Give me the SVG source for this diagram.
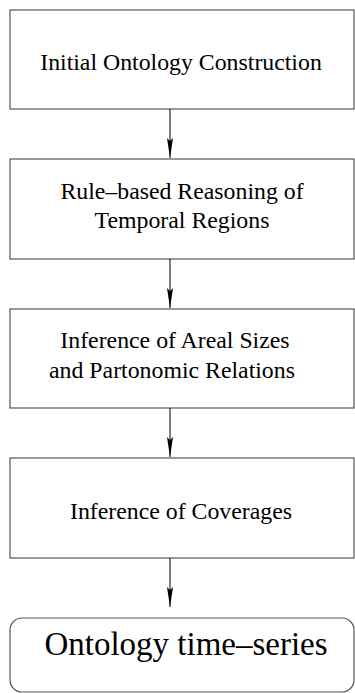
<svg xmlns="http://www.w3.org/2000/svg" width="355" height="693" viewBox="0 0 355 693">
<style>
.box{fill:#fff;stroke:#555;stroke-width:1.2}
.t{font-family:"Liberation Serif","Times New Roman",serif;font-size:23.8px;fill:#000;text-anchor:middle}
.big{font-family:"Liberation Serif","Times New Roman",serif;font-size:33px;fill:#000;text-anchor:middle}
.c{stroke:#000;stroke-width:1;fill:none}
</style>
<defs>
<marker id="ah" viewBox="0 0 20 6" refX="20" refY="3" markerWidth="20" markerHeight="6" markerUnits="userSpaceOnUse" orient="auto">
<path d="M0,0 L20,3 L0,6 L3,3 Z" fill="#000"/>
</marker>
</defs>
<rect width="355" height="693" fill="#fff"/>
<g id="n1"><rect class="box" x="10" y="10" width="344" height="99"/><text class="t" x="181" y="70">Initial Ontology Construction</text></g>
<g id="n2"><rect class="box" x="10" y="159" width="344" height="100"/><text class="t" x="182" y="199">Rule–based Reasoning of</text><text class="t" x="182" y="228">Temporal Regions</text></g>
<g id="n3"><rect class="box" x="10" y="309" width="344" height="99"/><text class="t" x="175" y="348">Inference of Areal Sizes</text><text class="t" x="172" y="378">and Partonomic Relations</text></g>
<g id="n4"><rect class="box" x="10" y="458" width="344" height="100"/><text class="t" x="181" y="519">Inference of Coverages</text></g>
<g id="n5"><rect class="box" x="10" y="618" width="344" height="74" rx="12" ry="12"/><text class="big" x="186" y="655">Ontology time–series</text></g>
<g id="connectors">
<line class="c" x1="170" y1="109" x2="170" y2="158" marker-end="url(#ah)"/>
<line class="c" x1="170" y1="259" x2="170" y2="308" marker-end="url(#ah)"/>
<line class="c" x1="170" y1="408" x2="170" y2="457" marker-end="url(#ah)"/>
<line class="c" x1="170" y1="558" x2="170" y2="607" marker-end="url(#ah)"/>
</g>
</svg>
